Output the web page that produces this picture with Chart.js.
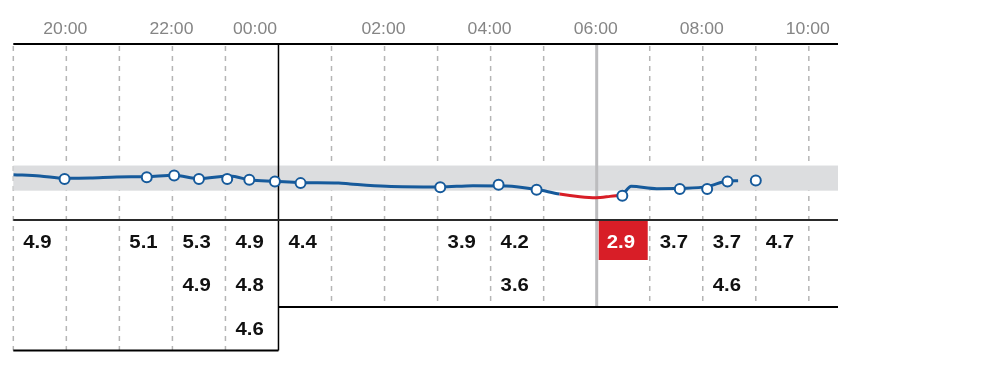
<!DOCTYPE html>
<html>
<head>
<meta charset="utf-8">
<script src="https://cdn.jsdelivr.net/npm/chart.js@4.4.1/dist/chart.umd.min.js"></script>
<style>
  body { margin: 0; background: #fff; }
  #wrap { width: 1000px; height: 384px; }
</style>
</head>
<body>
<div id="wrap"><canvas id="glucose-chart"></canvas></div>
<script>
// sensor trace (mmol/L)
const traceTimes = ["19:00", "19:30", "19:58", "20:27", "20:57", "21:31", "22:02", "22:30", "23:05", "23:28",
  "23:56", "00:25", "01:08", "01:21", "02:02", "03:03", "03:40", "04:18", "04:51", "05:18",
  "05:41", "05:59", "06:15", "06:29", "06:39", "07:08", "07:34", "08:05", "08:28", "08:40"];
const traceValues = [5.4, 5.25, 4.97, 5.0, 5.13, 5.17, 5.33, 4.93, 5.25, 4.77,
  4.62, 4.45, 4.41, 4.3, 4.02, 3.94, 4.1, 4.06, 3.66, 3.1,
  2.78, 2.66, 2.82, 3.06, 4.02, 3.74, 3.78, 3.98, 4.65, 4.69];

// finger-prick readings, also listed in the table under the chart
const readingTimes = ["19:58", "21:31", "22:02", "22:30", "23:02", "23:27", "23:56", "00:25",
  "03:03", "04:09", "04:52", "06:29", "07:34", "08:05", "08:28", "09:00"];
const readingValues = [4.9, 5.1, 5.3, 4.9, 4.9, 4.8, 4.6, 4.4,
  3.9, 4.2, 3.6, 2.9, 3.7, 3.7, 4.6, 4.7];

const tickLabels = ["20:00", "22:00", "00:00", "02:00", "04:00", "06:00", "08:00", "10:00"];
const targetRange = [3.5, 6.5];
const lowLimit = 3.5;
const axisStart = "19:00";
const axisEnd = "10:33";
const dayBreak = "00:00";
const nowTime = "06:00";

const BLUE = '#165a9b';
const RED = '#d81e27';
const ROW_H = 43.5;
const TEXT_SX = 1.1;

function toHours(t) {
  const [h, m] = t.split(':').map(Number);
  return (h < 19 ? h + 24 : h) + m / 60;
}

const trace = traceTimes.map((t, i) => ({ x: toHours(t), y: traceValues[i] }));
const readings = readingTimes.map((t, i) => ({ x: toHours(t), y: readingValues[i] }));

// table cells: one column per hour
const byHour = {};
readings.forEach(p => {
  const col = Math.floor(p.x);
  (byHour[col] = byHour[col] || []).push(p.y);
});
const breakH = toHours(dayBreak);
function rowCount(before) {
  let n = 0;
  for (const col in byHour) {
    if ((+col < breakH) === before) n = Math.max(n, byHour[col].length);
  }
  return n;
}
const rowsLeft = rowCount(true);
const rowsRight = rowCount(false);

function wideText(ctx, text, x, y, align) {
  ctx.save();
  ctx.translate(x, y);
  ctx.scale(TEXT_SX, 1);
  ctx.textAlign = align;
  ctx.fillText(text, 0, 0);
  ctx.restore();
}

function hline(ctx, x1, x2, y, color, w) {
  ctx.beginPath();
  ctx.strokeStyle = color;
  ctx.lineWidth = w;
  ctx.moveTo(x1, y);
  ctx.lineTo(x2, y);
  ctx.stroke();
}

function vline(ctx, x, y1, y2, color, w) {
  ctx.beginPath();
  ctx.strokeStyle = color;
  ctx.lineWidth = w;
  ctx.moveTo(x, y1);
  ctx.lineTo(x, y2);
  ctx.stroke();
}

const tablePlugin = {
  id: 'table',
  beforeDatasetsDraw(chart) {
    const { ctx, chartArea: a, scales: { x, y } } = chart;
    const midX = x.getPixelForValue(breakH);
    const nowH = toHours(nowTime);
    const leftBottom = a.bottom + ROW_H * rowsLeft;
    const rightBottom = a.bottom + ROW_H * rowsRight;
    ctx.save();

    // dashed hour lines
    ctx.setLineDash([5, 5]);
    for (let h = Math.ceil(x.min); h <= x.max; h++) {
      if (h === breakH || h === nowH) continue;
      const px = x.getPixelForValue(h);
      vline(ctx, px, a.top + 2, h < breakH ? leftBottom : rightBottom, '#b5b5b5', 1.5);
    }
    ctx.setLineDash([]);

    // target band
    ctx.fillStyle = '#dcdddf';
    const yTop = y.getPixelForValue(targetRange[1]);
    const yBot = y.getPixelForValue(targetRange[0]);
    ctx.fillRect(a.left, yTop, a.right - a.left, yBot - yTop);

    // day break and current time
    vline(ctx, midX, a.top, leftBottom, '#000', 1.5);
    vline(ctx, x.getPixelForValue(nowH), a.top + 1, rightBottom, '#bcbcbe', 3);

    // frame lines
    hline(ctx, a.left, a.right, a.top, '#000', 2);
    hline(ctx, a.left, a.right, a.bottom, '#2a2a2a', 2);
    hline(ctx, a.left, midX, leftBottom, '#000', 2);
    hline(ctx, midX, a.right, rightBottom, '#000', 2);

    // time labels
    ctx.fillStyle = '#858585';
    ctx.font = '16px "Liberation Sans", Arial, sans-serif';
    ctx.textBaseline = 'middle';
    tickLabels.forEach(lbl => {
      const h = toHours(lbl);
      const px = x.getPixelForValue(h);
      if (h === breakH) wideText(ctx, lbl, px - 1.5, 29.5, 'right');
      else wideText(ctx, lbl, px - 1, 29.5, 'center');
    });

    // table values
    ctx.font = 'bold 18.5px "Liberation Sans", Arial, sans-serif';
    for (const col in byHour) {
      const left = x.getPixelForValue(+col);
      const right = x.getPixelForValue(+col + 1);
      byHour[col].forEach((v, i) => {
        const top = a.bottom + ROW_H * i;
        if (v < lowLimit) {
          ctx.fillStyle = RED;
          ctx.fillRect(left + 2, top + 1, right - left - 4, ROW_H - 4.5);
          ctx.fillStyle = '#fff';
        } else {
          ctx.fillStyle = '#111';
        }
        wideText(ctx, v.toFixed(1), left + 10, top + ROW_H / 2 + 1, 'left');
      });
    }
    ctx.restore();
  }
};

new Chart(document.getElementById("glucose-chart"), {
  type: 'line',
  data: {
    datasets: [{
      label: 'Readings',
      data: readings,
      showLine: false,
      pointRadius: 5,
      pointBorderWidth: 2,
      pointBackgroundColor: '#fff',
      pointBorderColor: BLUE
    }, {
      label: 'Sensor',
      data: trace,
      borderColor: BLUE,
      borderWidth: 3,
      pointRadius: 0,
      cubicInterpolationMode: 'monotone',
      segment: {
        borderColor: c => (c.p0.parsed.y < lowLimit && c.p1.parsed.y < lowLimit) ? RED : BLUE
      }
    }]
  },
  options: {
    responsive: true,
    maintainAspectRatio: false,
    animation: false,
    layout: { padding: { left: 13.3, right: 162, top: 44, bottom: 164 } },
    scales: {
      x: { type: 'linear', min: toHours(axisStart), max: toHours(axisEnd), display: false },
      y: { min: 0, max: 21, display: false }
    },
    plugins: {
      legend: { display: false },
      tooltip: { enabled: false }
    }
  },
  plugins: [tablePlugin]
});
</script>
</body>
</html>
